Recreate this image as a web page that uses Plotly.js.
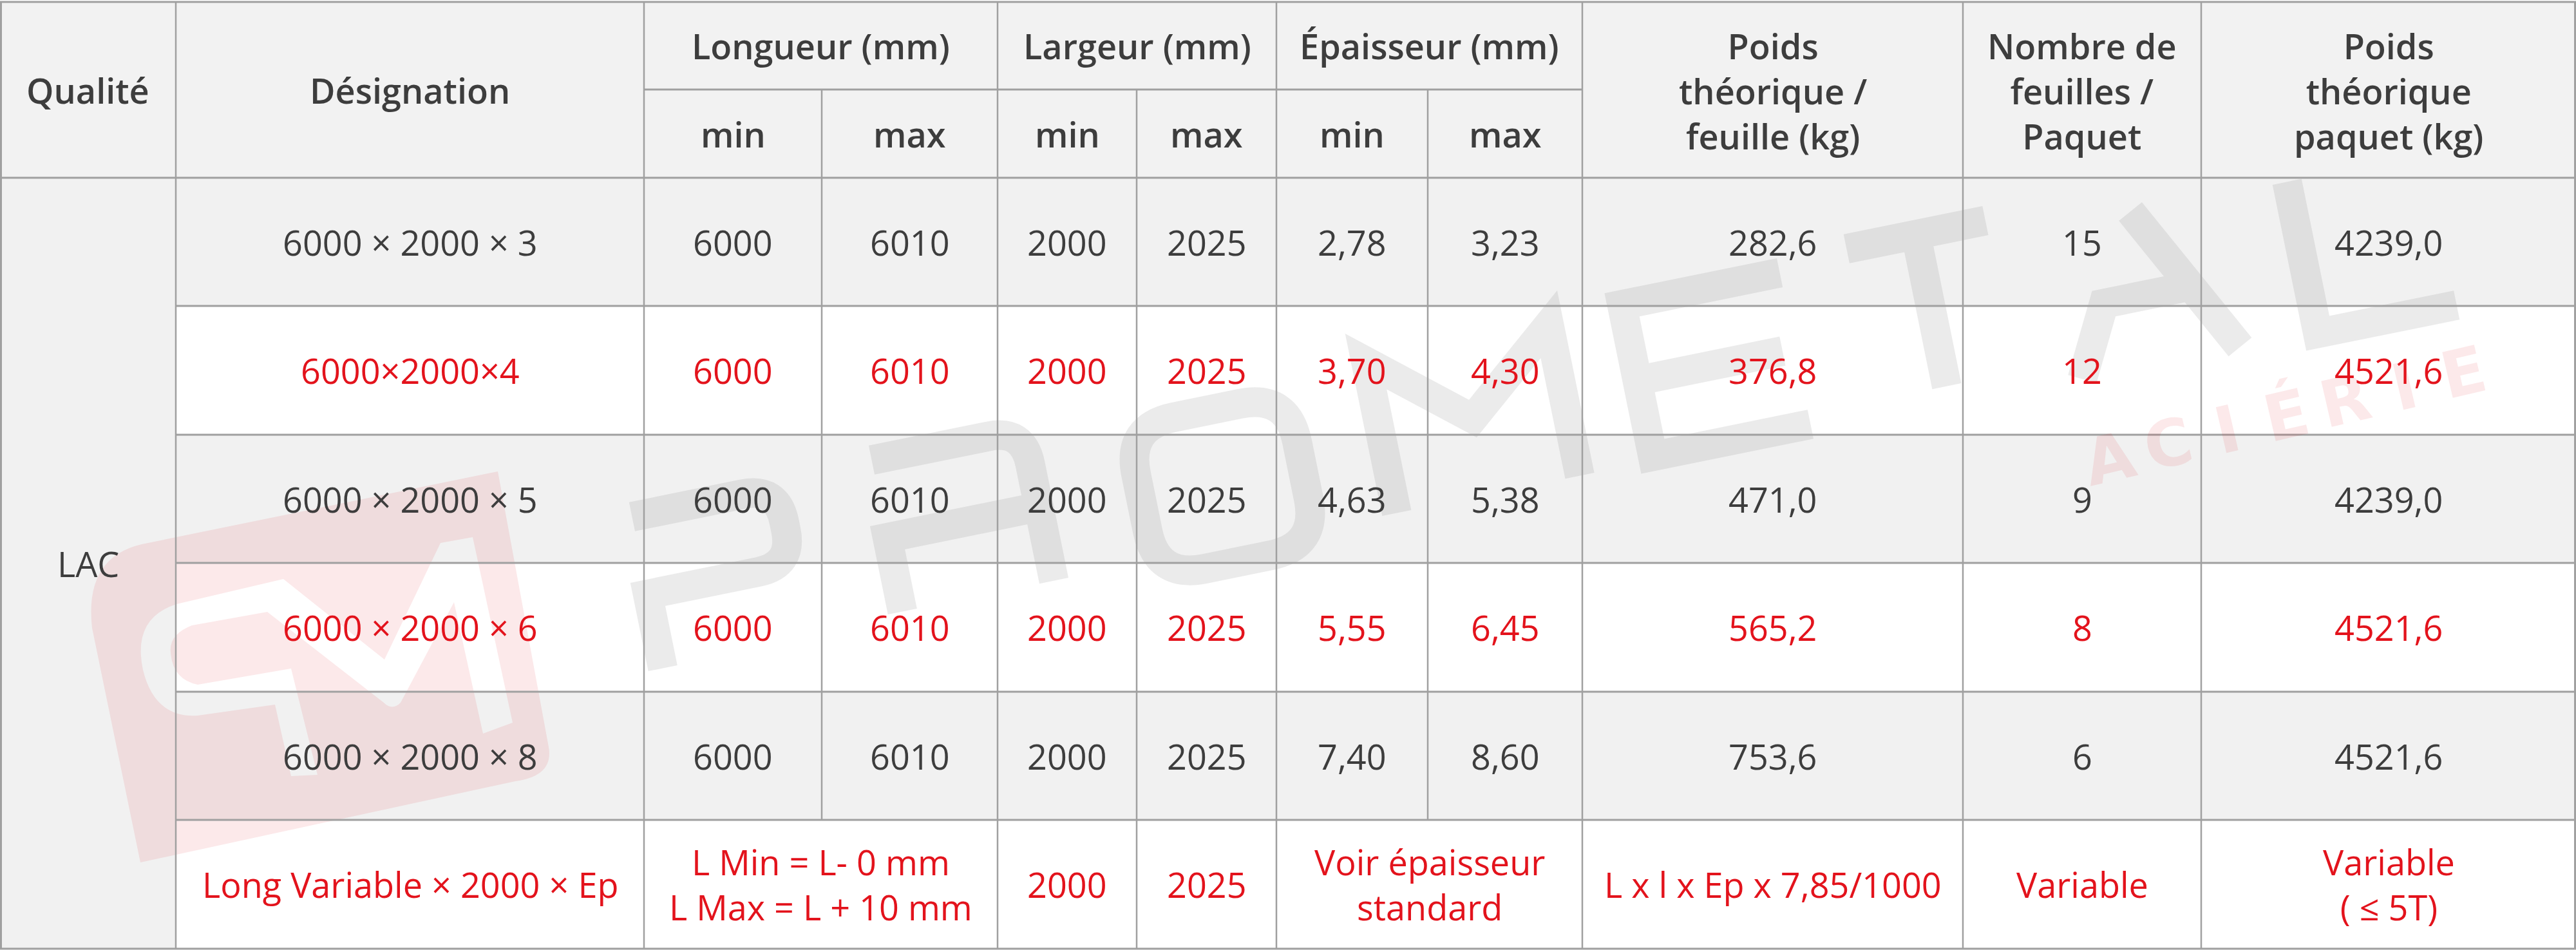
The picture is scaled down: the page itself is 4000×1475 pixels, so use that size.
<!DOCTYPE html>
<html>
<head>
<meta charset="utf-8">
<script src="https://cdn.plot.ly/plotly-3.0.1.min.js"></script>
<style>
  html, body { margin: 0; padding: 0; background: #ffffff; }
  #chart { width: 4000px; height: 1475px; }
</style>
</head>
<body>
<div id="chart"></div>
<script>
// ---------------- DATA ----------------
const qualite = 'LAC';
const headerTop = ['Qualité', 'Désignation', 'Longueur (mm)', 'Largeur (mm)', 'Épaisseur (mm)',
  'Poids<br>théorique /<br>feuille (kg)', 'Nombre de<br>feuilles /<br>Paquet', 'Poids<br>théorique<br>paquet (kg)'];
const subHeader = ['min', 'max'];
const designation = ['6000 × 2000 × 3', '6000×2000×4', '6000 × 2000 × 5', '6000 × 2000 × 6', '6000 × 2000 × 8'];
const longMin = [6000, 6000, 6000, 6000, 6000];
const longMax = [6010, 6010, 6010, 6010, 6010];
const largMin = [2000, 2000, 2000, 2000, 2000, 2000];
const largMax = [2025, 2025, 2025, 2025, 2025, 2025];
const epMin = [2.78, 3.70, 4.63, 5.55, 7.40];
const epMax = [3.23, 4.30, 5.38, 6.45, 8.60];
const poidsFeuille = [282.6, 376.8, 471.0, 565.2, 753.6];
const nbFeuilles = [15, 12, 9, 8, 6];
const poidsPaquet = [4239.0, 4521.6, 4239.0, 4521.6, 4521.6];
// last (variable) row
const varDesignation = 'Long Variable × 2000 × Ep';
const varLongueur = 'L Min = L- 0 mm<br>L Max = L + 10 mm';
const varEpaisseur = 'Voir épaisseur<br>standard';
const varPoidsFeuille = 'L x l x Ep x 7,85/1000';
const varNbFeuilles = 'Variable';
const varPoidsPaquet = 'Variable<br>( ≤ 5T)';
const watermarkSub = ['A', 'C', 'I', 'É', 'R', 'I', 'E'];

// ---------------- LAYOUT GEOMETRY ----------------
const COL = [0, 273, 1000, 1276, 1549, 1765, 1982, 2217, 2457, 3048, 3418, 4000];
const TOP = 3, MID = 139, HEAD = 276, BOTTOM = 1473;
const ROWY = [276, 475, 675, 874, 1074, 1273, 1473];
const GRAY = '#f1f1f1', HEADBG = '#f2f2f2', WHITE = '#ffffff';
const DARK = '#3d3d3d', RED = '#e3131c', LINE = '#a0a0a0';
const FONT = 'Open Sans, Noto Sans, sans-serif';
const FS = 54;

const fmt = (v, d) => v.toFixed(d).replace('.', ',');
const cx = (a, b) => (COL[a] + COL[b]) / 2;

const shapes = [];
const annotations = [];

function rect(x0, y0, x1, y1, color) {
  shapes.push({type: 'rect', xref: 'x', yref: 'y', x0, y0, x1, y1, fillcolor: color, line: {width: 0}, layer: 'below'});
}
function line(x0, y0, x1, y1, w) {
  shapes.push({type: 'line', xref: 'x', yref: 'y', x0, y0, x1, y1, line: {color: LINE, width: w}, layer: 'below'});
}
function txt(x, y, text, color, bold) {
  annotations.push({xref: 'x', yref: 'y', x, y, text, showarrow: false, xanchor: 'center', yanchor: 'middle',
    align: 'center', font: {family: FONT, size: FS, color, weight: bold ? 600 : 400}});
}

// backgrounds
rect(0, TOP, 4000, HEAD, HEADBG);
rect(0, HEAD, COL[1], BOTTOM, GRAY);
for (let r = 0; r < 6; r++) rect(COL[1], ROWY[r], 4000, ROWY[r + 1], r % 2 === 0 ? GRAY : WHITE);

// logo watermark (pink, semi-transparent, cut-out band)
const logoOuter = 'M 230,843 L 773,732 L 852,1160 Q 860,1205 800,1213 L 218,1339 L 143,975 Q 130,860 230,843 Z';
const logoInner = 'M 274,938 L 440,899 L 597,1024 L 684,843 L 734,834 L 796,1122 L 750,1139 L 705,935 L 622,1091 ' +
  'Q 609,1104 596,1091 L 415,950 L 298,971 Q 262,985 265,1013 Q 268,1055 307,1063 L 452,1038 L 493,1203 L 452,1205 ' +
  'L 427,1094 L 307,1111 Q 240,1115 222,1040 Q 205,960 274,938 Z';
shapes.push({type: 'path', xref: 'x', yref: 'y', path: logoOuter + ' ' + logoInner, fillrule: 'evenodd',
  fillcolor: 'rgba(227,6,19,0.09)', line: {width: 0}, layer: 'below'});

// PROMETAL watermark: stroked geometric letters, tilted
const LH = 240, ANG = 11.5 * Math.PI / 180;
const glyphs = [
  {w: 230, c: [1118, 897], d: [['M',0,240],['L',175,240],['Q',230,240,230,185],['L',230,172],['Q',230,117,175,117],['L',0,117],['L',0,0]]},
  {w: 240, c: [1495, 808], d: [['M',0,240],['L',185,240],['Q',240,240,240,185],['L',240,0],['M',240,117],['L',0,117],['L',0,0]]},
  {w: 255, c: [1898, 755], d: [['M',75,0],['L',180,0],['Q',255,0,255,75],['L',255,165],['Q',255,240,180,240],['L',75,240],['Q',0,240,0,165],['L',0,75],['Q',0,0,75,0],['Z']]},
  {w: 290, c: [2287, 650], d: [['M',0,0],['L',0,240],['L',145,120],['L',290,240],['L',290,0]]},
  {w: 250, c: [2665, 566], d: [['M',250,240],['L',0,240],['L',0,0],['L',250,0],['M',0,120],['L',230,120]]},
  {w: 220, c: [2999, 482], d: [['M',0,240],['L',220,240],['M',110,240],['L',110,0]]},
  {w: 250, c: [3332, 446], d: [['M',0,0],['L',56,108],['L',194,108],['M',125,240],['L',250,0]]},
  {w: 220, c: [3683, 378], d: [['M',0,240],['L',0,0],['L',220,0]]}
];
glyphs.forEach(g => {
  const ox = g.w / 2, oy = LH / 2, co = Math.cos(ANG), si = Math.sin(ANG);
  const tp = (x, y) => {
    const dx = x - ox, dy = y - oy;
    return (g.c[0] + dx * co - dy * si).toFixed(1) + ',' + (g.c[1] - dx * si - dy * co).toFixed(1);
  };
  const path = g.d.map(s => {
    if (s[0] === 'Z') return 'Z';
    if (s[0] === 'Q') return 'Q ' + tp(s[1], s[2]) + ' ' + tp(s[3], s[4]);
    return s[0] + ' ' + tp(s[1], s[2]);
  }).join(' ');
  shapes.push({type: 'path', xref: 'x', yref: 'y', path, fillcolor: 'rgba(0,0,0,0)',
    line: {color: 'rgba(120,120,120,0.15)', width: 46}, layer: 'below'});
});

// grid lines
const HW = 3, VW = 2.5;
line(0, TOP, 4000, TOP, HW);
line(0, BOTTOM, 4000, BOTTOM, HW);
line(0, HEAD, 4000, HEAD, HW);
line(COL[2], MID, COL[8], MID, HW);
for (let r = 1; r < 6; r++) line(COL[1], ROWY[r], 4000, ROWY[r], HW);
line(1.5, TOP, 1.5, BOTTOM, 3);
line(3998.5, TOP, 3998.5, BOTTOM, 3);
[1, 2, 4, 6, 8, 9, 10].forEach(c => line(COL[c], TOP, COL[c], BOTTOM, VW));
line(COL[3], MID, COL[3], ROWY[5], VW);
line(COL[7], MID, COL[7], ROWY[5], VW);
line(COL[5], MID, COL[5], BOTTOM, VW);

// ACIÉRIE watermark
watermarkSub.forEach((ch, i) => {
  const t = i / (watermarkSub.length - 1);
  annotations.push({xref: 'x', yref: 'y', x: 3275 + t * (3825 - 3275), y: 712 + t * (578 - 712), text: ch, showarrow: false,
    xanchor: 'center', yanchor: 'middle', textangle: -13,
    font: {family: 'DejaVu Sans, sans-serif', size: 100, weight: 700, color: 'rgba(227,6,19,0.09)'}});
});

// header texts
txt(cx(0, 1), 140, headerTop[0], DARK, true);
txt(cx(1, 2), 140, headerTop[1], DARK, true);
txt(cx(2, 4), 71, headerTop[2], DARK, true);
txt(cx(4, 6), 71, headerTop[3], DARK, true);
txt(cx(6, 8), 71, headerTop[4], DARK, true);
[[2, 3], [3, 4], [4, 5], [5, 6], [6, 7], [7, 8]].forEach((p, i) => txt(cx(p[0], p[1]), 208, subHeader[i % 2], DARK, true));
txt(cx(8, 9), 141, headerTop[5], DARK, true);
txt(cx(9, 10), 141, headerTop[6], DARK, true);
txt(cx(10, 11), 141, headerTop[7], DARK, true);

// body
txt(cx(0, 1), 875, qualite, DARK, false);
for (let r = 0; r < 5; r++) {
  const y = (ROWY[r] + ROWY[r + 1]) / 2;
  const c = r % 2 === 0 ? DARK : RED;
  txt(cx(1, 2), y, designation[r], c);
  txt(cx(2, 3), y, String(longMin[r]), c);
  txt(cx(3, 4), y, String(longMax[r]), c);
  txt(cx(4, 5), y, String(largMin[r]), c);
  txt(cx(5, 6), y, String(largMax[r]), c);
  txt(cx(6, 7), y, fmt(epMin[r], 2), c);
  txt(cx(7, 8), y, fmt(epMax[r], 2), c);
  txt(cx(8, 9), y, fmt(poidsFeuille[r], 1), c);
  txt(cx(9, 10), y, String(nbFeuilles[r]), c);
  txt(cx(10, 11), y, fmt(poidsPaquet[r], 1), c);
}
const yl = (ROWY[5] + ROWY[6]) / 2;
txt(cx(1, 2), yl, varDesignation, RED);
txt(cx(2, 4), yl, varLongueur, RED);
txt(cx(4, 5), yl, String(largMin[5]), RED);
txt(cx(5, 6), yl, String(largMax[5]), RED);
txt(cx(6, 8), yl, varEpaisseur, RED);
txt(cx(8, 9), yl, varPoidsFeuille, RED);
txt(cx(9, 10), yl, varNbFeuilles, RED);
txt(cx(10, 11), yl, varPoidsPaquet, RED);

const layout = {
  width: 4000, height: 1475,
  margin: {l: 0, r: 0, t: 0, b: 0, pad: 0},
  paper_bgcolor: '#ffffff', plot_bgcolor: '#ffffff',
  xaxis: {range: [0, 4000], visible: false, fixedrange: true},
  yaxis: {range: [1475, 0], visible: false, fixedrange: true},
  showlegend: false,
  font: {family: FONT},
  shapes, annotations
};
Plotly.newPlot('chart', [{type: 'scatter', x: [], y: [], mode: 'markers', hoverinfo: 'skip'}], layout,
  {displayModeBar: false, staticPlot: true});
</script>
</body>
</html>
